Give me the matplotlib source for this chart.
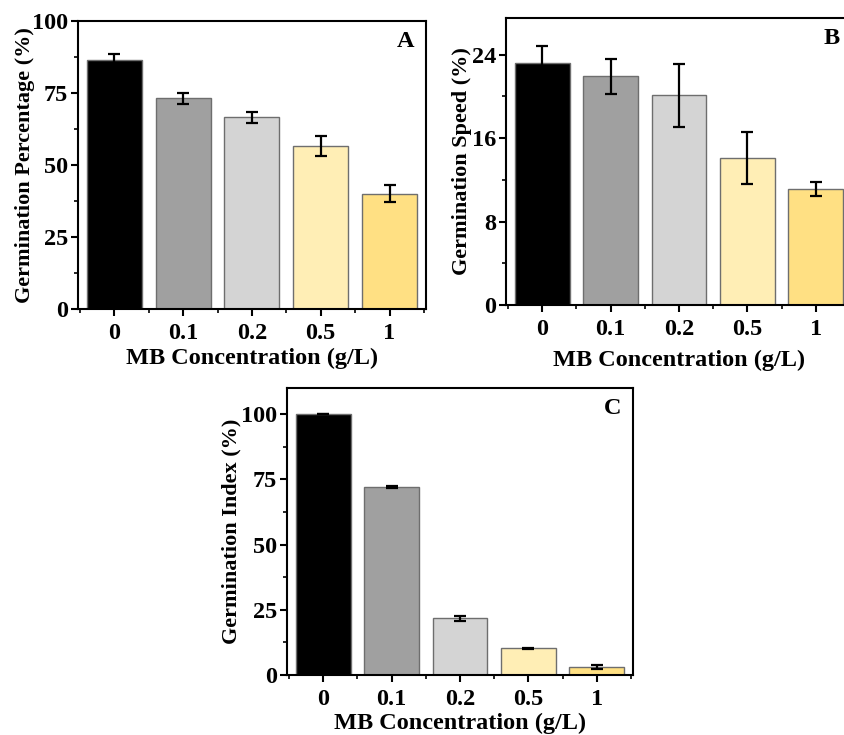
import matplotlib
matplotlib.use("Agg")
import matplotlib.pyplot as plt
from matplotlib.ticker import MultipleLocator
import numpy as np

plt.rcParams['font.family'] = ['Liberation Serif', 'DejaVu Serif']
plt.rcParams['font.weight'] = 'bold'

conc = ['0', '0.1', '0.2', '0.5', '1']
colors = ['#000000', '#a0a0a0', '#d4d4d4', '#ffeeb5', '#ffe083']

gp_mean = [86.5, 73.1, 66.5, 56.5, 40.0]
gp_err = [1.9, 1.8, 1.8, 3.4, 3.0]

gs_mean = [23.2, 21.9, 20.1, 14.1, 11.1]
gs_err = [1.6, 1.65, 3.0, 2.5, 0.65]

gi_mean = [100.0, 71.9, 21.7, 10.2, 3.1]
gi_err = [0.0, 0.4, 1.0, 0.3, 0.8]

FS = 17.5


def draw_panel(ax, means, errs, ylim, major, ylabel, tag, ylab_x, xlab_y):
    x = np.arange(len(conc))
    ax.bar(x, means, width=0.8, color=colors, edgecolor='#6e6e6e', linewidth=1.0)
    ax.errorbar(x, means, yerr=errs, fmt='none', ecolor='black',
                elinewidth=1.6, capsize=4, capthick=1.6)
    ax.set_xlim(-0.53, 4.53)
    ax.set_ylim(*ylim)
    ax.set_xticks(x)
    ax.set_xticklabels(conc)
    ax.xaxis.set_minor_locator(MultipleLocator(0.5))
    ax.yaxis.set_major_locator(MultipleLocator(major))
    ax.yaxis.set_minor_locator(MultipleLocator(major / 2))
    ax.tick_params(which='major', direction='out', length=5, width=1.5,
                   labelsize=FS, pad=2)
    ax.tick_params(axis='x', which='major', pad=5)
    ax.tick_params(which='minor', direction='out', length=3, width=1.2)
    for s in ax.spines.values():
        s.set_linewidth(1.5)
    ax.set_ylabel(ylabel, fontsize=16, fontweight='bold')
    ax.set_xlabel('MB Concentration (g/L)', fontsize=FS, fontweight='bold')
    ax.yaxis.set_label_coords(ylab_x, 0.5)
    ax.xaxis.set_label_coords(0.5, xlab_y)
    ax.text(0.965, 0.965, tag, transform=ax.transAxes, ha='right', va='top',
            fontsize=FS, fontweight='bold')


fig = plt.figure(figsize=(8.44, 7.35), dpi=100)

axA = fig.add_axes([0.0924, 0.5796, 0.4123, 0.3918])
draw_panel(axA, gp_mean, gp_err, (0, 100), 25, 'Germination Percentage (%)', 'A', -0.124, -0.135)

axB = fig.add_axes([0.5995, 0.585, 0.41, 0.3905])
draw_panel(axB, gs_mean, gs_err, (0, 27.5), 8, 'Germination Speed (%)', 'B', -0.098, -0.157)

axC = fig.add_axes([0.340, 0.0816, 0.41, 0.3905])
draw_panel(axC, gi_mean, gi_err, (0, 110), 25, 'Germination Index (%)', 'C', -0.13, -0.132)

fig.savefig('out.png', dpi=100)
